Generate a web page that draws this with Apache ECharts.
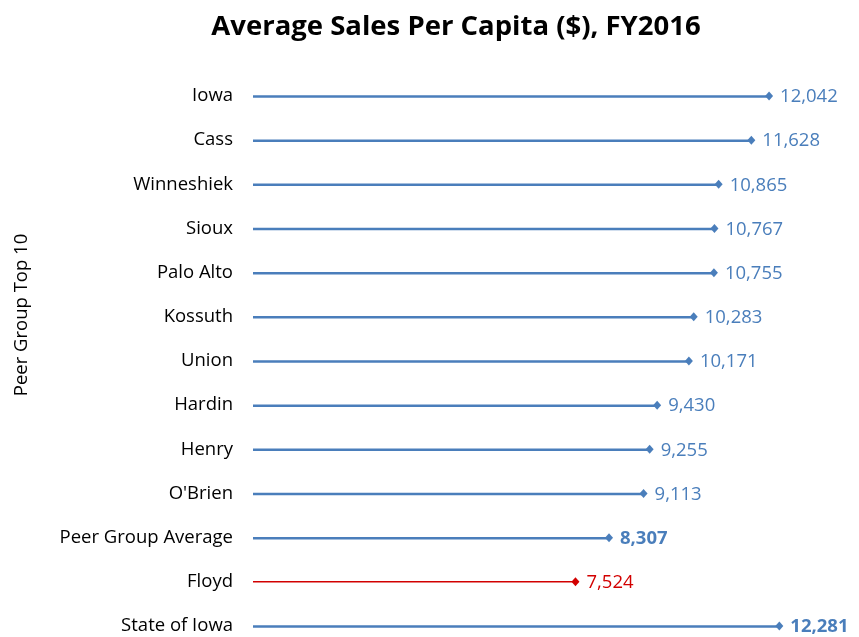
<!DOCTYPE html>
<html>
<head>
<meta charset="utf-8">
<script src="https://cdn.jsdelivr.net/npm/echarts@6/dist/echarts.min.js"></script>
<style>
  html, body { margin: 0; padding: 0; background: #fff; }
  #chart { width: 859px; height: 637px; }
</style>
</head>
<body>
<div id="chart"></div>
<script>
// Average sales per capita, FY2016

var categories = ['Iowa', 'Cass', 'Winneshiek', 'Sioux', 'Palo Alto', 'Kossuth', 'Union',
  'Hardin', 'Henry', "O'Brien", 'Peer Group Average', 'Floyd', 'State of Iowa'];
var sales = [12042, 11628, 10865, 10767, 10755, 10283, 10171, 9430, 9255, 9113, 8307, 7524, 12281];
var highlight = ['Floyd'];                              // drawn in red
var boldLabels = ['Peer Group Average', 'State of Iowa'];

var blue = '#4a7ebb';
var red = '#d20000';
var font = '"Open Sans", "Liberation Sans", sans-serif';

var blueBars = sales.map(function (v, i) {
  return highlight.indexOf(categories[i]) >= 0 ? null : v;
});
var redBars = sales.map(function (v, i) {
  return highlight.indexOf(categories[i]) >= 0 ? v : null;
});
var points = sales.map(function (v, i) {
  var isRed = highlight.indexOf(categories[i]) >= 0;
  return {
    value: [v, categories[i]],
    itemStyle: { color: isRed ? red : blue, opacity: 1 },
    label: {
      color: isRed ? red : blue,
      fontWeight: boldLabels.indexOf(categories[i]) >= 0 ? 'bold' : 'normal'
    }
  };
});

var myChart = echarts.init(document.getElementById('chart'));

var option = {
  animation: false,
  title: {
    text: 'Average Sales Per Capita ($), FY2016',
    left: 451,
    textAlign: 'center',
    top: 8,
    textStyle: { fontFamily: font, fontSize: 27.5, fontWeight: 'bold', color: '#000' }
  },
  grid: { left: 253, right: 6, top: 96, bottom: 11, containLabel: false },
  xAxis: {
    type: 'value',
    min: 0,
    max: 14000,
    show: false
  },
  yAxis: {
    type: 'category',
    data: categories,
    inverse: true,
    boundaryGap: false,
    axisLine: { show: false },
    axisTick: { show: false },
    splitLine: { show: false },
    axisLabel: { color: '#000', fontFamily: font, fontSize: 18.5, margin: 20 }
  },
  graphic: [{
    type: 'text',
    x: 22,
    y: 315,
    rotation: Math.PI / 2,
    style: {
      text: 'Peer Group Top 10',
      fontFamily: font,
      fontSize: 18.5,
      fill: '#000',
      align: 'center',
      verticalAlign: 'middle'
    }
  }],
  series: [
    {
      type: 'bar',
      data: blueBars,
      barWidth: 2.5,
      barGap: '-100%',
      clip: false,
      itemStyle: { color: blue }
    },
    {
      type: 'bar',
      data: redBars,
      barWidth: 1.5,
      barGap: '-100%',
      clip: false,
      itemStyle: { color: red }
    },
    {
      type: 'scatter',
      data: points,
      symbol: 'diamond',
      symbolSize: [8, 9],
      clip: false,
      label: {
        show: true,
        position: 'right',
        distance: 7,
        offset: [0, 1],
        fontFamily: font,
        fontSize: 18.5,
        formatter: function (p) {
          return p.value[0].toLocaleString('en-US');
        }
      }
    }
  ]
};

myChart.setOption(option);
</script>
</body>
</html>
